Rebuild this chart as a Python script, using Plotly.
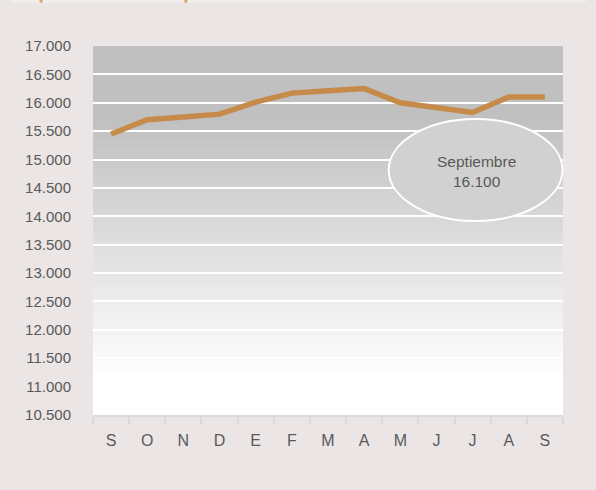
import plotly.graph_objects as go

# ---- data ----
months = ["Sep (1)", "Oct", "Nov", "Dic", "Ene", "Feb", "Mar", "Abr",
          "May", "Jun", "Jul", "Ago", "Sep (2)"]
month_letters = ["S", "O", "N", "D", "E", "F", "M", "A", "M", "J", "J", "A", "S"]
values = [15450, 15700, 15750, 15800, 16010, 16170, 16210, 16250,
          16000, 15920, 15830, 16100, 16100]
y_ticks = list(range(10500, 17001, 500))
callout_month = "Septiembre"

W, H = 596, 490
L, R, T, B = 93, 32.5, 46, 75
pw, ph = W - L - R, H - T - B


def px_x(px):
    return (px - L) / pw


def px_y(py):
    return (H - B - py) / ph


fig = go.Figure()
fig.add_trace(go.Scatter(
    x=months, y=values, mode="lines",
    line=dict(color="#c68b4b", width=5.5),
    hoverinfo="skip", showlegend=False,
))

shapes = []
# vertical gradient background (gray top -> white bottom)
N = 120
top_c, bot_c = 192, 255
for i in range(N):
    y0 = i / N
    y1 = (i + 1) / N + 0.002
    t = 1 - (i + 0.5) / N  # 0 at top, 1 at bottom
    if t < 0.2:
        v = top_c
    elif t > 0.9:
        v = bot_c
    else:
        v = top_c + (bot_c - top_c) * (t - 0.2) / 0.7
    v = int(round(v))
    shapes.append(dict(type="rect", xref="x domain", yref="y domain",
                       x0=0, x1=1, y0=y0, y1=min(y1, 1),
                       fillcolor=f"rgb({v},{v},{v})", line=dict(width=0),
                       layer="below"))

# callout ellipse
shapes.append(dict(type="circle", xref="x domain", yref="y domain",
                   x0=px_x(389), x1=px_x(563), y0=px_y(221), y1=px_y(119),
                   fillcolor="#d1d1d1", line=dict(color="white", width=2),
                   layer="above"))

# cropped strip at top of image
shapes.append(dict(type="rect", xref="paper", yref="paper",
                   x0=px_x(11), x1=px_x(586), y0=px_y(2.5), y1=px_y(0),
                   fillcolor="#f1efed", line=dict(width=0), layer="above"))
for ox in (41, 186):
    shapes.append(dict(type="rect", xref="paper", yref="paper",
                       x0=px_x(ox - 1.5), x1=px_x(ox + 1.5), y0=px_y(2.5), y1=px_y(0),
                       fillcolor="#d9a25f", line=dict(width=0), layer="above"))

last_val = f"{values[-1]:,.0f}".replace(",", ".")
annotations = [dict(xref="x domain", yref="y domain",
                    x=px_x(476.5), y=px_y(171), showarrow=False,
                    xanchor="center", yanchor="middle",
                    text=f"{callout_month}<br>{last_val}",
                    font=dict(family="Liberation Sans, Arial, sans-serif", size=15.5,
                              color="#595959"),
                    align="center")]

fig.update_layout(
    width=W, height=H,
    margin=dict(l=L, r=R, t=T, b=B),
    paper_bgcolor="#ebe6e5",
    plot_bgcolor="white",
    separators=",.",
    shapes=shapes,
    annotations=annotations,
    font=dict(family="Liberation Sans, Arial, sans-serif", color="#595959"),
    xaxis=dict(
        type="category",
        categoryorder="array", categoryarray=months,
        tickmode="array", tickvals=months, ticktext=month_letters,
        tickson="boundaries",
        ticks="outside", ticklen=7, tickwidth=2, tickcolor="#d9d9d9",
        showline=True, linecolor="#d9d9d9", linewidth=2,
        showgrid=False, zeroline=False,
        tickfont=dict(size=16, color="#595959"),
        range=[-0.5, len(months) - 0.5],
        ticklabelstandoff=10,
        fixedrange=True,
    ),
    yaxis=dict(
        range=[y_ticks[0], y_ticks[-1]],
        tickmode="array", tickvals=y_ticks,
        tickformat=",d",
        showgrid=True, gridcolor="white", gridwidth=2,
        showline=False, zeroline=False,
        ticks="",
        tickfont=dict(size=15, color="#595959"),
        ticklabelstandoff=21,
        fixedrange=True,
    ),
)

fig.write_html("out.html",
               config={"displayModeBar": False},
               post_script="document.body.style.margin='0';document.body.style.overflow='hidden';")
